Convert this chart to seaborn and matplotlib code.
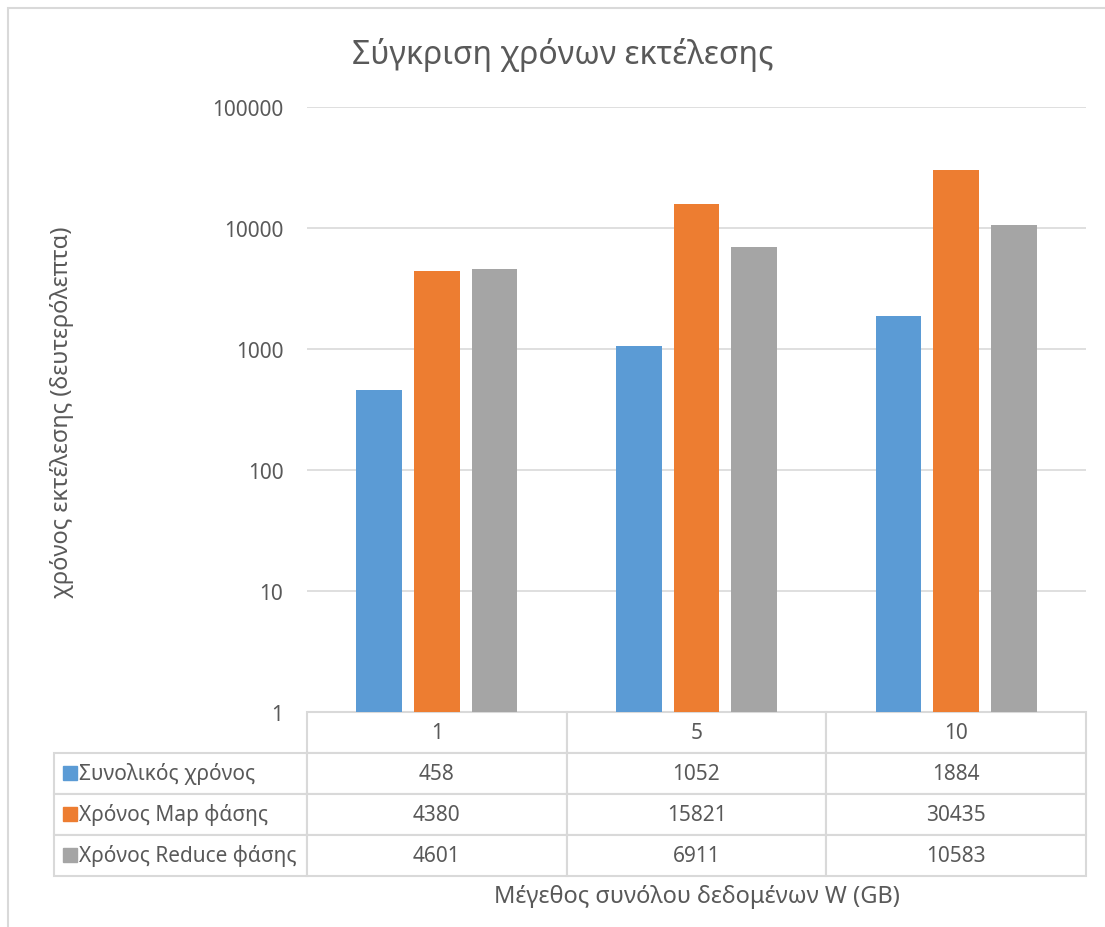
import matplotlib.pyplot as plt
import pandas as pd
import seaborn as sns
from matplotlib.patches import Rectangle


DATASET_SIZES = ["1", "5", "10"]
SERIES_NAMES = ["Συνολικός χρόνος", "Χρόνος Map φάσης", "Χρόνος Reduce φάσης"]
TOTAL_TIME = [458, 1052, 1884]
MAP_TIME = [4380, 15821, 30435]
REDUCE_TIME = [4601, 6911, 10583]
Y_TICKS = [1, 10, 100, 1000, 10000, 100000]

COLORS = ["#5B9BD5", "#ED7D31", "#A5A5A5"]
TEXT_COLOR = "#595959"
GRID_COLOR = "#D9D9D9"

FIG_W, FIG_H = 1105, 928


def build_frame() -> pd.DataFrame:
    rows = []
    for name, values in zip(SERIES_NAMES, [TOTAL_TIME, MAP_TIME, REDUCE_TIME]):
        for size, value in zip(DATASET_SIZES, values):
            rows.append({"size": size, "series": name, "value": value})
    return pd.DataFrame(rows)


def main() -> None:
    sns.set_theme(style="white")
    plt.rcParams["font.family"] = ["Noto Sans", "DejaVu Sans"]

    df = build_frame()

    fig = plt.figure(figsize=(FIG_W / 100, FIG_H / 100), dpi=100)
    left, right = 307 / FIG_W, 1086 / FIG_W
    bottom, top = 1 - 713 / FIG_H, 1 - 108 / FIG_H
    ax = fig.add_axes([left, bottom, right - left, top - bottom])
    ax.set_yscale("log")

    sns.barplot(
        data=df,
        x="size",
        y="value",
        hue="series",
        order=DATASET_SIZES,
        hue_order=SERIES_NAMES,
        palette=COLORS,
        saturation=1,
        width=0.666,
        gap=0.21,
        linewidth=0,
        edgecolor="none",
        legend=False,
        ax=ax,
    )

    ax.set_xlim(-0.5, len(DATASET_SIZES) - 0.5)
    ax.set_ylim(1, 100000)
    ax.set_yticks(Y_TICKS)
    ax.set_yticklabels([str(t) for t in Y_TICKS])
    ax.minorticks_off()
    ax.tick_params(axis="y", length=0, pad=17, labelsize=15, labelcolor=TEXT_COLOR)
    ax.set_xticks([])
    ax.set_xlabel("")
    ax.set_ylabel("")
    ax.grid(axis="y", color=GRID_COLOR, linewidth=1.2)
    ax.set_axisbelow(True)
    for spine in ax.spines.values():
        spine.set_visible(False)

    # data table under the axes
    ax_w_px = (right - left) * FIG_W
    ax_h_px = (top - bottom) * FIG_H
    label_w = 253.4 / ax_w_px
    table_h = 163.8 / ax_h_px
    cell_text = [
        [name] + [str(v) for v in values]
        for name, values in zip(SERIES_NAMES, [TOTAL_TIME, MAP_TIME, REDUCE_TIME])
    ]
    table = ax.table(
        cellText=cell_text,
        colLabels=[""] + DATASET_SIZES,
        colWidths=[label_w] + [1 / 3] * 3,
        cellLoc="center",
        bbox=[-label_w, -table_h, 1 + label_w, table_h],
    )
    table.auto_set_font_size(False)
    table.set_fontsize(15)
    for (row, col), cell in table.get_celld().items():
        cell.set_edgecolor(GRID_COLOR)
        cell.set_linewidth(1.5)
        cell.get_text().set_color(TEXT_COLOR)
        if row == 0 and col == 0:
            cell.visible_edges = ""
        elif col == 0:
            cell.get_text().set_ha("left")

    # legend keys in the row label cells
    for i, color in enumerate(COLORS):
        y_center = -table_h + table_h * (3 - i - 0.5) / 4
        ax.plot(
            [-label_w + 16 / ax_w_px], [y_center],
            marker="s", markersize=9.5, color=color,
            transform=ax.transAxes, clip_on=False,
        )

    fig.text(563 / FIG_W, 1 - 55 / FIG_H, "Σύγκριση χρόνων εκτέλεσης",
             ha="center", va="center", fontsize=23, color=TEXT_COLOR)
    fig.text(62 / FIG_W, 1 - 412 / FIG_H, "χρόνος εκτέλεσης (δευτερόλεπτα)",
             ha="center", va="center", rotation=90, fontsize=17, color=TEXT_COLOR)
    fig.text(697 / FIG_W, 1 - 897 / FIG_H, "Μέγεθος συνόλου δεδομένων W (GB)",
             ha="center", va="center", fontsize=17, color=TEXT_COLOR)

    fig.add_artist(Rectangle(
        (8 / FIG_W, -0.1), 1.2, 1.1 - 9 / FIG_H,
        transform=fig.transFigure, fill=False, edgecolor=GRID_COLOR, linewidth=1.5,
    ))

    fig.savefig("out.png", dpi=100, facecolor="white")
    plt.close(fig)


if __name__ == "__main__":
    main()
